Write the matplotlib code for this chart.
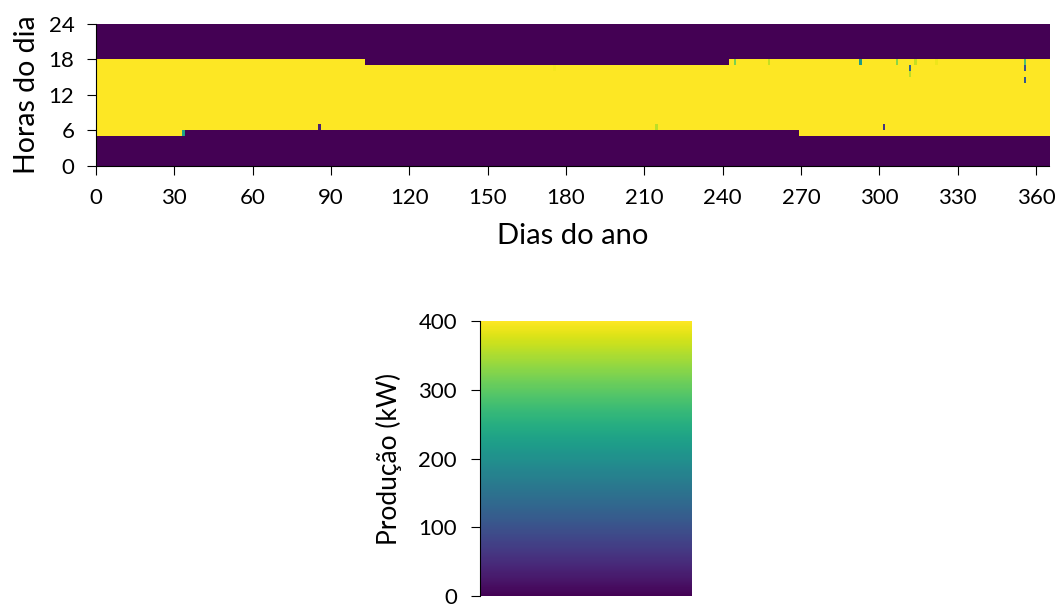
import numpy as np
import matplotlib
matplotlib.use("Agg")
import matplotlib.pyplot as plt

plt.rcParams['font.family'] = ['Lato', 'DejaVu Sans']

n_days = 365
n_hours = 24
peak = 400  # kW, plant output during daylight hours

# first productive hour of the day, by day ranges (start day, end day, hour)
first_hour = [(0, 34, 5), (34, 269, 6), (269, 365, 5)]
# first hour after sunset (exclusive)
last_hour = [(0, 103, 18), (103, 242, 17), (242, 365, 18)]

# individual hours that fell below peak: (day, hour, kW)
dips = [
    (33, 5, 230), (85, 6, 35), (175, 16, 395), (214, 6, 360),
    (244, 17, 320), (257, 17, 365), (292, 17, 220), (301, 6, 60),
    (306, 17, 330), (311, 16, 130), (311, 15, 360), (313, 17, 365),
    (321, 17, 390), (355, 17, 290), (355, 16, 100), (355, 14, 110),
]

prod = np.zeros((n_hours, n_days))
for d0, d1, h in first_hour:
    for d in range(d0, d1):
        prod[h:, d] = peak
for d0, d1, h in last_hour:
    for d in range(d0, d1):
        prod[h:, d] = 0
for d, h, v in dips:
    prod[h, d] = v

fig = plt.figure(figsize=(10.58, 6.04), dpi=100)
ax = fig.add_axes([0.0907, 0.7252, 0.901, 0.2351])
im = ax.imshow(prod, origin='lower', aspect='auto', cmap='viridis',
               vmin=0, vmax=peak, extent=[0, n_days, 0, n_hours],
               interpolation='nearest')
ax.set_xticks(np.arange(0, 361, 30))
ax.set_yticks(np.arange(0, 25, 6))
ax.tick_params(labelsize=16, length=6.5, pad=9)
ax.set_xlabel("Dias do ano", fontsize=21, labelpad=11)
ax.set_ylabel("Horas do dia", fontsize=20.5, labelpad=6)
ax.spines['top'].set_visible(False)
ax.spines['right'].set_visible(False)

cax = fig.add_axes([0.4537, 0.0132, 0.2004, 0.4553])
cb = fig.colorbar(im, cax=cax)
cb.outline.set_visible(False)
cax.yaxis.set_ticks_position('left')
cax.yaxis.set_label_position('left')
cax.spines['left'].set_visible(True)
cb.set_ticks([0, 100, 200, 300, 400])
cax.tick_params(labelsize=16, length=6.5, pad=10)
cb.set_label("Produção (kW)", fontsize=19, labelpad=12)

fig.savefig("out.png", dpi=100)
